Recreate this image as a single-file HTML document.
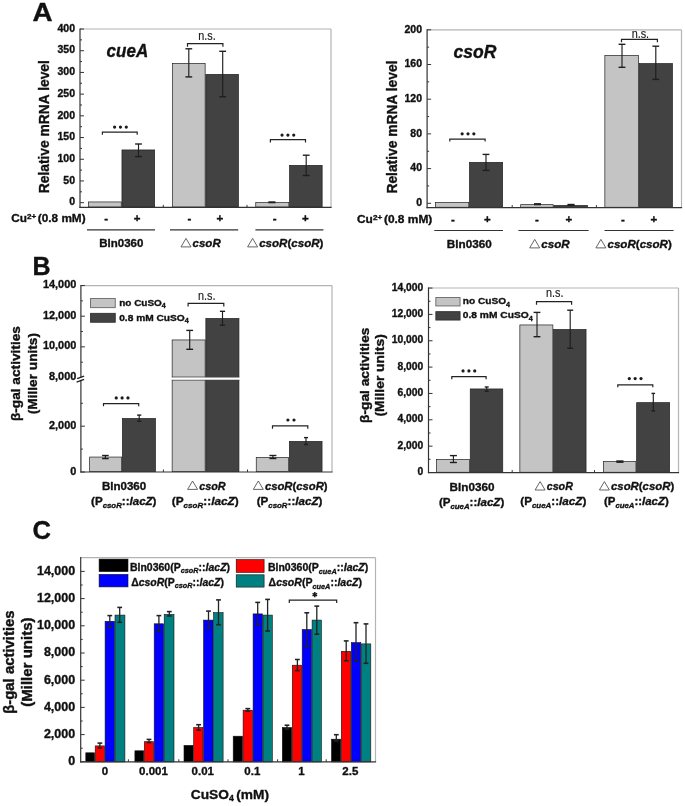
<!DOCTYPE html><html><head><meta charset="utf-8"><style>html,body{margin:0;padding:0;background:#fff;}svg{display:block;will-change:transform;}text{font-family:"Liberation Sans", sans-serif;stroke:#111;stroke-width:0.35px;stroke-linejoin:round;}text[font-weight=normal]{stroke-width:0.15px;}</style></head><body>
<svg width="685" height="806" viewBox="0 0 685 806">
<rect width="685" height="806" fill="#fff"/>
<text transform="translate(32.6,21) scale(1.09,1)" x="0" y="0" font-size="25.5" font-weight="bold" fill="#111">A</text>
<text x="32.50" y="275.10" font-size="25" font-weight="bold" font-style="normal" text-anchor="start" fill="#111">B</text>
<text x="32.40" y="539.10" font-size="25.5" font-weight="bold" font-style="normal" text-anchor="start" fill="#111">C</text>
<rect x="88.35" y="201.95" width="32.90" height="5.10" fill="#c4c4c4" stroke="#222" stroke-width="0.7"/>
<rect x="121.95" y="149.95" width="32.70" height="57.10" fill="#424242" stroke="#222" stroke-width="0.7"/>
<rect x="172.55" y="63.35" width="32.60" height="143.70" fill="#c4c4c4" stroke="#222" stroke-width="0.7"/>
<rect x="205.85" y="74.35" width="32.60" height="132.70" fill="#424242" stroke="#222" stroke-width="0.7"/>
<rect x="255.75" y="202.55" width="33.10" height="4.50" fill="#c4c4c4" stroke="#222" stroke-width="0.7"/>
<rect x="289.55" y="165.35" width="32.60" height="41.70" fill="#424242" stroke="#222" stroke-width="0.7"/>
<line x1="138.50" y1="144.00" x2="138.50" y2="156.60" stroke="#1e1e1e" stroke-width="1.15"/>
<line x1="135.10" y1="144.00" x2="141.90" y2="144.00" stroke="#1e1e1e" stroke-width="1.38"/>
<line x1="135.10" y1="156.60" x2="141.90" y2="156.60" stroke="#1e1e1e" stroke-width="1.38"/>
<line x1="188.80" y1="48.80" x2="188.80" y2="76.90" stroke="#1e1e1e" stroke-width="1.15"/>
<line x1="185.40" y1="48.80" x2="192.20" y2="48.80" stroke="#1e1e1e" stroke-width="1.38"/>
<line x1="185.40" y1="76.90" x2="192.20" y2="76.90" stroke="#1e1e1e" stroke-width="1.38"/>
<line x1="222.70" y1="51.30" x2="222.70" y2="96.80" stroke="#1e1e1e" stroke-width="1.15"/>
<line x1="219.30" y1="51.30" x2="226.10" y2="51.30" stroke="#1e1e1e" stroke-width="1.38"/>
<line x1="219.30" y1="96.80" x2="226.10" y2="96.80" stroke="#1e1e1e" stroke-width="1.38"/>
<line x1="306.20" y1="155.20" x2="306.20" y2="175.50" stroke="#1e1e1e" stroke-width="1.15"/>
<line x1="302.80" y1="155.20" x2="309.60" y2="155.20" stroke="#1e1e1e" stroke-width="1.38"/>
<line x1="302.80" y1="175.50" x2="309.60" y2="175.50" stroke="#1e1e1e" stroke-width="1.38"/>
<line x1="271.90" y1="202.00" x2="271.90" y2="202.60" stroke="#1e1e1e" stroke-width="1.15"/>
<line x1="268.40" y1="202.00" x2="275.40" y2="202.00" stroke="#1e1e1e" stroke-width="1.38"/>
<line x1="268.40" y1="202.60" x2="275.40" y2="202.60" stroke="#1e1e1e" stroke-width="1.38"/>
<line x1="80.00" y1="29.00" x2="331.00" y2="29.00" stroke="#b4b4b4" stroke-width="1.2"/>
<line x1="331.00" y1="29.00" x2="331.00" y2="207.40" stroke="#b4b4b4" stroke-width="1.2"/>
<line x1="80.00" y1="28.40" x2="80.00" y2="208.00" stroke="#333333" stroke-width="1.2"/>
<line x1="79.40" y1="207.40" x2="331.60" y2="207.40" stroke="#333333" stroke-width="1.2"/>
<line x1="80.00" y1="202.66" x2="84.00" y2="202.66" stroke="#333333" stroke-width="1.0"/>
<line x1="80.00" y1="180.95" x2="84.00" y2="180.95" stroke="#333333" stroke-width="1.0"/>
<line x1="80.00" y1="159.25" x2="84.00" y2="159.25" stroke="#333333" stroke-width="1.0"/>
<line x1="80.00" y1="137.55" x2="84.00" y2="137.55" stroke="#333333" stroke-width="1.0"/>
<line x1="80.00" y1="115.84" x2="84.00" y2="115.84" stroke="#333333" stroke-width="1.0"/>
<line x1="80.00" y1="94.14" x2="84.00" y2="94.14" stroke="#333333" stroke-width="1.0"/>
<line x1="80.00" y1="72.43" x2="84.00" y2="72.43" stroke="#333333" stroke-width="1.0"/>
<line x1="80.00" y1="50.72" x2="84.00" y2="50.72" stroke="#333333" stroke-width="1.0"/>
<line x1="80.00" y1="29.02" x2="84.00" y2="29.02" stroke="#333333" stroke-width="1.0"/>
<line x1="80.00" y1="191.81" x2="82.00" y2="191.81" stroke="#333333" stroke-width="1.0"/>
<line x1="80.00" y1="170.10" x2="82.00" y2="170.10" stroke="#333333" stroke-width="1.0"/>
<line x1="80.00" y1="148.40" x2="82.00" y2="148.40" stroke="#333333" stroke-width="1.0"/>
<line x1="80.00" y1="126.69" x2="82.00" y2="126.69" stroke="#333333" stroke-width="1.0"/>
<line x1="80.00" y1="104.99" x2="82.00" y2="104.99" stroke="#333333" stroke-width="1.0"/>
<line x1="80.00" y1="83.28" x2="82.00" y2="83.28" stroke="#333333" stroke-width="1.0"/>
<line x1="80.00" y1="61.58" x2="82.00" y2="61.58" stroke="#333333" stroke-width="1.0"/>
<line x1="80.00" y1="39.87" x2="82.00" y2="39.87" stroke="#333333" stroke-width="1.0"/>
<line x1="163.30" y1="207.40" x2="163.30" y2="204.90" stroke="#333333" stroke-width="1.0"/>
<line x1="247.00" y1="207.40" x2="247.00" y2="204.90" stroke="#333333" stroke-width="1.0"/>
<text x="75.00" y="205.36" font-size="10.5" font-weight="bold" font-style="normal" text-anchor="end" fill="#111">0</text>
<text x="75.00" y="183.65" font-size="10.5" font-weight="bold" font-style="normal" text-anchor="end" fill="#111">50</text>
<text x="75.00" y="161.95" font-size="10.5" font-weight="bold" font-style="normal" text-anchor="end" fill="#111">100</text>
<text x="75.00" y="140.25" font-size="10.5" font-weight="bold" font-style="normal" text-anchor="end" fill="#111">150</text>
<text x="75.00" y="118.54" font-size="10.5" font-weight="bold" font-style="normal" text-anchor="end" fill="#111">200</text>
<text x="75.00" y="96.84" font-size="10.5" font-weight="bold" font-style="normal" text-anchor="end" fill="#111">250</text>
<text x="75.00" y="75.13" font-size="10.5" font-weight="bold" font-style="normal" text-anchor="end" fill="#111">300</text>
<text x="75.00" y="53.42" font-size="10.5" font-weight="bold" font-style="normal" text-anchor="end" fill="#111">350</text>
<text x="75.00" y="31.72" font-size="10.5" font-weight="bold" font-style="normal" text-anchor="end" fill="#111">400</text>
<polyline points="102.40,134.80 102.40,132.10 137.20,132.10 137.20,134.80" fill="none" stroke="#222" stroke-width="1.2"/>
<circle cx="114.60" cy="127.10" r="1.6" fill="#1a1a1a"/>
<circle cx="120.45" cy="127.10" r="1.6" fill="#1a1a1a"/>
<circle cx="126.30" cy="127.10" r="1.6" fill="#1a1a1a"/>
<polyline points="187.50,46.70 187.50,43.70 222.90,43.70 222.90,46.70" fill="none" stroke="#222" stroke-width="1.2"/>
<text x="207.00" y="40.00" font-size="12.5" font-weight="normal" font-style="normal" text-anchor="middle" fill="#222" textLength="17.50" lengthAdjust="spacingAndGlyphs">n.s.</text>
<polyline points="270.40,142.50 270.40,139.70 305.50,139.70 305.50,142.50" fill="none" stroke="#222" stroke-width="1.2"/>
<circle cx="282.05" cy="135.10" r="1.6" fill="#1a1a1a"/>
<circle cx="287.90" cy="135.10" r="1.6" fill="#1a1a1a"/>
<circle cx="293.75" cy="135.10" r="1.6" fill="#1a1a1a"/>
<text x="106.60" y="57.10" font-size="17.5" font-weight="bold" font-style="italic" text-anchor="start" fill="#111" textLength="41.60" lengthAdjust="spacingAndGlyphs">cueA</text>
<rect x="435.55" y="202.45" width="33.20" height="4.80" fill="#c4c4c4" stroke="#222" stroke-width="0.7"/>
<rect x="469.45" y="162.35" width="33.20" height="44.90" fill="#424242" stroke="#222" stroke-width="0.7"/>
<rect x="520.65" y="204.65" width="32.50" height="2.60" fill="#c4c4c4" stroke="#222" stroke-width="0.7"/>
<rect x="553.85" y="205.45" width="33.60" height="1.80" fill="#424242" stroke="#222" stroke-width="0.7"/>
<rect x="604.85" y="55.45" width="33.60" height="151.80" fill="#c4c4c4" stroke="#222" stroke-width="0.7"/>
<rect x="639.15" y="63.55" width="33.30" height="143.70" fill="#424242" stroke="#222" stroke-width="0.7"/>
<line x1="486.00" y1="154.40" x2="486.00" y2="170.40" stroke="#1e1e1e" stroke-width="1.15"/>
<line x1="482.60" y1="154.40" x2="489.40" y2="154.40" stroke="#1e1e1e" stroke-width="1.38"/>
<line x1="482.60" y1="170.40" x2="489.40" y2="170.40" stroke="#1e1e1e" stroke-width="1.38"/>
<line x1="622.00" y1="44.30" x2="622.00" y2="67.30" stroke="#1e1e1e" stroke-width="1.15"/>
<line x1="618.60" y1="44.30" x2="625.40" y2="44.30" stroke="#1e1e1e" stroke-width="1.38"/>
<line x1="618.60" y1="67.30" x2="625.40" y2="67.30" stroke="#1e1e1e" stroke-width="1.38"/>
<line x1="655.80" y1="46.20" x2="655.80" y2="79.40" stroke="#1e1e1e" stroke-width="1.15"/>
<line x1="652.40" y1="46.20" x2="659.20" y2="46.20" stroke="#1e1e1e" stroke-width="1.38"/>
<line x1="652.40" y1="79.40" x2="659.20" y2="79.40" stroke="#1e1e1e" stroke-width="1.38"/>
<line x1="537.50" y1="203.80" x2="537.50" y2="204.60" stroke="#1e1e1e" stroke-width="1.15"/>
<line x1="534.00" y1="203.80" x2="541.00" y2="203.80" stroke="#1e1e1e" stroke-width="1.38"/>
<line x1="534.00" y1="204.60" x2="541.00" y2="204.60" stroke="#1e1e1e" stroke-width="1.38"/>
<line x1="571.00" y1="204.50" x2="571.00" y2="205.30" stroke="#1e1e1e" stroke-width="1.15"/>
<line x1="567.50" y1="204.50" x2="574.50" y2="204.50" stroke="#1e1e1e" stroke-width="1.38"/>
<line x1="567.50" y1="205.30" x2="574.50" y2="205.30" stroke="#1e1e1e" stroke-width="1.38"/>
<line x1="427.10" y1="29.80" x2="681.50" y2="29.80" stroke="#b4b4b4" stroke-width="1.2"/>
<line x1="681.50" y1="29.80" x2="681.50" y2="207.60" stroke="#b4b4b4" stroke-width="1.2"/>
<line x1="427.10" y1="29.20" x2="427.10" y2="208.20" stroke="#333333" stroke-width="1.2"/>
<line x1="426.50" y1="207.60" x2="682.10" y2="207.60" stroke="#333333" stroke-width="1.2"/>
<line x1="427.10" y1="203.30" x2="431.10" y2="203.30" stroke="#333333" stroke-width="1.0"/>
<line x1="427.10" y1="168.60" x2="431.10" y2="168.60" stroke="#333333" stroke-width="1.0"/>
<line x1="427.10" y1="133.90" x2="431.10" y2="133.90" stroke="#333333" stroke-width="1.0"/>
<line x1="427.10" y1="99.20" x2="431.10" y2="99.20" stroke="#333333" stroke-width="1.0"/>
<line x1="427.10" y1="64.50" x2="431.10" y2="64.50" stroke="#333333" stroke-width="1.0"/>
<line x1="427.10" y1="29.80" x2="431.10" y2="29.80" stroke="#333333" stroke-width="1.0"/>
<line x1="427.10" y1="185.95" x2="429.10" y2="185.95" stroke="#333333" stroke-width="1.0"/>
<line x1="427.10" y1="151.25" x2="429.10" y2="151.25" stroke="#333333" stroke-width="1.0"/>
<line x1="427.10" y1="116.55" x2="429.10" y2="116.55" stroke="#333333" stroke-width="1.0"/>
<line x1="427.10" y1="81.85" x2="429.10" y2="81.85" stroke="#333333" stroke-width="1.0"/>
<line x1="427.10" y1="47.15" x2="429.10" y2="47.15" stroke="#333333" stroke-width="1.0"/>
<line x1="512.20" y1="207.60" x2="512.20" y2="205.10" stroke="#333333" stroke-width="1.0"/>
<line x1="596.40" y1="207.60" x2="596.40" y2="205.10" stroke="#333333" stroke-width="1.0"/>
<text x="422.00" y="206.00" font-size="10.5" font-weight="bold" font-style="normal" text-anchor="end" fill="#111">0</text>
<text x="422.00" y="171.30" font-size="10.5" font-weight="bold" font-style="normal" text-anchor="end" fill="#111">40</text>
<text x="422.00" y="136.60" font-size="10.5" font-weight="bold" font-style="normal" text-anchor="end" fill="#111">80</text>
<text x="422.00" y="101.90" font-size="10.5" font-weight="bold" font-style="normal" text-anchor="end" fill="#111">120</text>
<text x="422.00" y="67.20" font-size="10.5" font-weight="bold" font-style="normal" text-anchor="end" fill="#111">160</text>
<text x="422.00" y="32.50" font-size="10.5" font-weight="bold" font-style="normal" text-anchor="end" fill="#111">200</text>
<polyline points="449.80,141.60 449.80,139.20 485.10,139.20 485.10,141.60" fill="none" stroke="#222" stroke-width="1.2"/>
<circle cx="462.15" cy="133.80" r="1.6" fill="#1a1a1a"/>
<circle cx="468.00" cy="133.80" r="1.6" fill="#1a1a1a"/>
<circle cx="473.85" cy="133.80" r="1.6" fill="#1a1a1a"/>
<polyline points="621.50,42.20 621.50,39.40 657.40,39.40 657.40,42.20" fill="none" stroke="#222" stroke-width="1.2"/>
<text x="640.40" y="37.50" font-size="12.5" font-weight="normal" font-style="normal" text-anchor="middle" fill="#222" textLength="17.50" lengthAdjust="spacingAndGlyphs">n.s.</text>
<text x="453.60" y="58.40" font-size="17.5" font-weight="bold" font-style="italic" text-anchor="start" fill="#111" textLength="42.90" lengthAdjust="spacingAndGlyphs">csoR</text>
<text x="11.20" y="222.30" font-size="11.5" font-weight="bold" fill="#111" textLength="74.40" lengthAdjust="spacingAndGlyphs">Cu<tspan font-size="7.9" dy="-3.7">2+</tspan><tspan dy="3.7" font-size="6"> </tspan>(0.8 mM)</text>
<text x="106.10" y="221.90" font-size="11.5" font-weight="bold" font-style="normal" text-anchor="middle" fill="#111">-</text>
<text x="137.10" y="221.90" font-size="11.5" font-weight="bold" font-style="normal" text-anchor="middle" fill="#111">+</text>
<text x="189.40" y="221.90" font-size="11.5" font-weight="bold" font-style="normal" text-anchor="middle" fill="#111">-</text>
<text x="219.90" y="221.90" font-size="11.5" font-weight="bold" font-style="normal" text-anchor="middle" fill="#111">+</text>
<text x="274.60" y="221.90" font-size="11.5" font-weight="bold" font-style="normal" text-anchor="middle" fill="#111">-</text>
<text x="305.40" y="221.90" font-size="11.5" font-weight="bold" font-style="normal" text-anchor="middle" fill="#111">+</text>
<line x1="87.00" y1="229.80" x2="155.00" y2="229.80" stroke="#333" stroke-width="1.2"/>
<line x1="170.00" y1="229.80" x2="238.20" y2="229.80" stroke="#333" stroke-width="1.2"/>
<line x1="255.40" y1="229.80" x2="323.40" y2="229.80" stroke="#333" stroke-width="1.2"/>
<text x="99.30" y="247.20" font-size="11.5" font-weight="bold" font-style="normal" text-anchor="start" fill="#111" textLength="44.10" lengthAdjust="spacingAndGlyphs">Bln0360</text>
<polygon points="186.00,238.40 191.00,246.90 181.00,246.90" fill="none" stroke="#555" stroke-width="0.9"/>
<text x="192.60" y="247.20" font-size="11.5" font-weight="bold" font-style="italic" text-anchor="start" fill="#111" textLength="28.10" lengthAdjust="spacingAndGlyphs">csoR</text>
<polygon points="252.60,238.40 257.60,246.90 247.60,246.90" fill="none" stroke="#555" stroke-width="0.9"/>
<text x="259.20" y="247.20" font-size="11.5" font-weight="bold" fill="#111" textLength="64.20" lengthAdjust="spacingAndGlyphs"><tspan font-style="italic">csoR</tspan>(<tspan font-style="italic">csoR</tspan>)</text>
<text x="357.00" y="223.30" font-size="11.5" font-weight="bold" fill="#111" textLength="75.30" lengthAdjust="spacingAndGlyphs">Cu<tspan font-size="7.9" dy="-3.7">2+</tspan><tspan dy="3.7" font-size="6"> </tspan>(0.8 mM)</text>
<text x="452.90" y="222.90" font-size="11.5" font-weight="bold" font-style="normal" text-anchor="middle" fill="#111">-</text>
<text x="487.30" y="222.90" font-size="11.5" font-weight="bold" font-style="normal" text-anchor="middle" fill="#111">+</text>
<text x="537.00" y="222.90" font-size="11.5" font-weight="bold" font-style="normal" text-anchor="middle" fill="#111">-</text>
<text x="568.90" y="222.90" font-size="11.5" font-weight="bold" font-style="normal" text-anchor="middle" fill="#111">+</text>
<text x="622.90" y="222.90" font-size="11.5" font-weight="bold" font-style="normal" text-anchor="middle" fill="#111">-</text>
<text x="653.90" y="222.90" font-size="11.5" font-weight="bold" font-style="normal" text-anchor="middle" fill="#111">+</text>
<line x1="434.30" y1="230.50" x2="503.00" y2="230.50" stroke="#333" stroke-width="1.2"/>
<line x1="518.40" y1="230.50" x2="588.60" y2="230.50" stroke="#333" stroke-width="1.2"/>
<line x1="604.50" y1="230.50" x2="673.60" y2="230.50" stroke="#333" stroke-width="1.2"/>
<text x="446.80" y="248.20" font-size="11.5" font-weight="bold" font-style="normal" text-anchor="start" fill="#111" textLength="44.90" lengthAdjust="spacingAndGlyphs">Bln0360</text>
<polygon points="534.70,239.40 539.70,247.90 529.70,247.90" fill="none" stroke="#555" stroke-width="0.9"/>
<text x="541.30" y="248.20" font-size="11.5" font-weight="bold" font-style="italic" text-anchor="start" fill="#111" textLength="28.40" lengthAdjust="spacingAndGlyphs">csoR</text>
<polygon points="600.90,239.40 605.90,247.90 595.90,247.90" fill="none" stroke="#555" stroke-width="0.9"/>
<text x="607.50" y="248.20" font-size="11.5" font-weight="bold" fill="#111" textLength="64.30" lengthAdjust="spacingAndGlyphs"><tspan font-style="italic">csoR</tspan>(<tspan font-style="italic">csoR</tspan>)</text>
<text transform="translate(49.00,126.70) rotate(-90) scale(1,1.0)" x="0" y="0" font-size="14" font-weight="bold" text-anchor="middle" fill="#111" textLength="133.20" lengthAdjust="spacingAndGlyphs">Relative mRNA level</text>
<text transform="translate(396.90,127.05) rotate(-90) scale(1,1.0)" x="0" y="0" font-size="14" font-weight="bold" text-anchor="middle" fill="#111" textLength="133.10" lengthAdjust="spacingAndGlyphs">Relative mRNA level</text>
<rect x="89.65" y="457.05" width="32.00" height="14.60" fill="#c4c4c4" stroke="#222" stroke-width="0.7"/>
<rect x="122.35" y="418.45" width="33.10" height="53.20" fill="#424242" stroke="#222" stroke-width="0.7"/>
<rect x="172.15" y="339.95" width="33.00" height="131.70" fill="#c4c4c4" stroke="#222" stroke-width="0.7"/>
<rect x="205.85" y="318.45" width="33.10" height="153.20" fill="#424242" stroke="#222" stroke-width="0.7"/>
<rect x="256.25" y="457.35" width="32.40" height="14.30" fill="#c4c4c4" stroke="#222" stroke-width="0.7"/>
<rect x="289.35" y="441.35" width="32.70" height="30.30" fill="#424242" stroke="#222" stroke-width="0.7"/>
<rect x="160" y="377.3" width="90" height="2.6" fill="#fff"/>
<line x1="171.80" y1="376.95" x2="239.30" y2="376.95" stroke="#444" stroke-width="0.7"/>
<line x1="171.80" y1="380.25" x2="239.30" y2="380.25" stroke="#444" stroke-width="0.7"/>
<line x1="105.40" y1="455.50" x2="105.40" y2="458.60" stroke="#1e1e1e" stroke-width="1.15"/>
<line x1="102.10" y1="455.50" x2="108.70" y2="455.50" stroke="#1e1e1e" stroke-width="1.38"/>
<line x1="102.10" y1="458.60" x2="108.70" y2="458.60" stroke="#1e1e1e" stroke-width="1.38"/>
<line x1="139.20" y1="415.10" x2="139.20" y2="421.30" stroke="#1e1e1e" stroke-width="1.15"/>
<line x1="137.10" y1="415.10" x2="141.30" y2="415.10" stroke="#1e1e1e" stroke-width="1.38"/>
<line x1="137.10" y1="421.30" x2="141.30" y2="421.30" stroke="#1e1e1e" stroke-width="1.38"/>
<line x1="189.70" y1="330.40" x2="189.70" y2="349.30" stroke="#1e1e1e" stroke-width="1.15"/>
<line x1="186.30" y1="330.40" x2="193.10" y2="330.40" stroke="#1e1e1e" stroke-width="1.38"/>
<line x1="186.30" y1="349.30" x2="193.10" y2="349.30" stroke="#1e1e1e" stroke-width="1.38"/>
<line x1="222.50" y1="311.30" x2="222.50" y2="325.20" stroke="#1e1e1e" stroke-width="1.15"/>
<line x1="219.90" y1="311.30" x2="225.10" y2="311.30" stroke="#1e1e1e" stroke-width="1.38"/>
<line x1="219.90" y1="325.20" x2="225.10" y2="325.20" stroke="#1e1e1e" stroke-width="1.38"/>
<line x1="272.90" y1="455.50" x2="272.90" y2="458.50" stroke="#1e1e1e" stroke-width="1.15"/>
<line x1="269.40" y1="455.50" x2="276.40" y2="455.50" stroke="#1e1e1e" stroke-width="1.38"/>
<line x1="269.40" y1="458.50" x2="276.40" y2="458.50" stroke="#1e1e1e" stroke-width="1.38"/>
<line x1="306.00" y1="437.60" x2="306.00" y2="444.50" stroke="#1e1e1e" stroke-width="1.15"/>
<line x1="304.00" y1="437.60" x2="308.00" y2="437.60" stroke="#1e1e1e" stroke-width="1.38"/>
<line x1="304.00" y1="444.50" x2="308.00" y2="444.50" stroke="#1e1e1e" stroke-width="1.38"/>
<line x1="80.90" y1="285.60" x2="332.00" y2="285.60" stroke="#b4b4b4" stroke-width="1.2"/>
<line x1="332.00" y1="285.60" x2="332.00" y2="472.00" stroke="#b4b4b4" stroke-width="1.2"/>
<line x1="80.90" y1="285.00" x2="80.90" y2="472.60" stroke="#333333" stroke-width="1.2"/>
<line x1="80.30" y1="472.00" x2="332.60" y2="472.00" stroke="#333333" stroke-width="1.2"/>
<rect x="79.4" y="377.4" width="3" height="2.4" fill="#fff"/>
<line x1="77.10" y1="378.60" x2="84.10" y2="376.10" stroke="#222" stroke-width="1.4"/>
<line x1="76.60" y1="382.20" x2="84.10" y2="379.40" stroke="#222" stroke-width="1.4"/>
<line x1="80.90" y1="346.85" x2="84.90" y2="346.85" stroke="#333333" stroke-width="1.0"/>
<line x1="80.90" y1="316.20" x2="84.90" y2="316.20" stroke="#333333" stroke-width="1.0"/>
<line x1="80.90" y1="285.55" x2="84.90" y2="285.55" stroke="#333333" stroke-width="1.0"/>
<line x1="80.90" y1="472.00" x2="84.90" y2="472.00" stroke="#333333" stroke-width="1.0"/>
<line x1="80.90" y1="426.20" x2="84.90" y2="426.20" stroke="#333333" stroke-width="1.0"/>
<line x1="80.90" y1="362.18" x2="82.90" y2="362.18" stroke="#333333" stroke-width="1.0"/>
<line x1="80.90" y1="331.52" x2="82.90" y2="331.52" stroke="#333333" stroke-width="1.0"/>
<line x1="80.90" y1="300.88" x2="82.90" y2="300.88" stroke="#333333" stroke-width="1.0"/>
<line x1="80.90" y1="449.10" x2="82.90" y2="449.10" stroke="#333333" stroke-width="1.0"/>
<line x1="80.90" y1="403.30" x2="82.90" y2="403.30" stroke="#333333" stroke-width="1.0"/>
<line x1="163.40" y1="472.00" x2="163.40" y2="469.50" stroke="#333333" stroke-width="1.0"/>
<line x1="247.50" y1="472.00" x2="247.50" y2="469.50" stroke="#333333" stroke-width="1.0"/>
<text x="76.30" y="380.10" font-size="10.9" font-weight="bold" font-style="normal" text-anchor="end" fill="#111">8,000</text>
<text x="76.30" y="349.45" font-size="10.9" font-weight="bold" font-style="normal" text-anchor="end" fill="#111">10,000</text>
<text x="76.30" y="318.80" font-size="10.9" font-weight="bold" font-style="normal" text-anchor="end" fill="#111">12,000</text>
<text x="76.30" y="288.15" font-size="10.9" font-weight="bold" font-style="normal" text-anchor="end" fill="#111">14,000</text>
<text x="76.30" y="474.60" font-size="10.9" font-weight="bold" font-style="normal" text-anchor="end" fill="#111">0</text>
<text x="76.30" y="428.80" font-size="10.9" font-weight="bold" font-style="normal" text-anchor="end" fill="#111">2,000</text>
<polyline points="103.50,406.30 103.50,403.70 138.70,403.70 138.70,406.30" fill="none" stroke="#222" stroke-width="1.2"/>
<circle cx="116.25" cy="397.90" r="1.6" fill="#1a1a1a"/>
<circle cx="122.10" cy="397.90" r="1.6" fill="#1a1a1a"/>
<circle cx="127.95" cy="397.90" r="1.6" fill="#1a1a1a"/>
<polyline points="188.10,306.60 188.10,303.40 223.80,303.40 223.80,306.60" fill="none" stroke="#222" stroke-width="1.2"/>
<text x="206.80" y="299.60" font-size="12.5" font-weight="normal" font-style="normal" text-anchor="middle" fill="#222" textLength="17.50" lengthAdjust="spacingAndGlyphs">n.s.</text>
<polyline points="272.50,428.80 272.50,425.80 307.80,425.80 307.80,428.80" fill="none" stroke="#222" stroke-width="1.2"/>
<circle cx="287.90" cy="420.00" r="1.6" fill="#1a1a1a"/>
<circle cx="294.00" cy="420.00" r="1.6" fill="#1a1a1a"/>
<rect x="90.55" y="298.55" width="24.70" height="9.10" fill="#c4c4c4" stroke="#666" stroke-width="0.9"/>
<rect x="90.55" y="313.35" width="24.70" height="8.90" fill="#424242" stroke="#333" stroke-width="0.9"/>
<text x="119.20" y="306.20" font-size="9.6" font-weight="bold" fill="#111" textLength="46.60" lengthAdjust="spacingAndGlyphs">no CuSO<tspan font-size="6.8" dy="2.2">4</tspan></text>
<text x="119.20" y="320.60" font-size="9.6" font-weight="bold" fill="#111" textLength="69.60" lengthAdjust="spacingAndGlyphs">0.8 mM CuSO<tspan font-size="6.8" dy="2.2">4</tspan></text>
<text x="101.90" y="490.30" font-size="11.5" font-weight="bold" font-style="normal" text-anchor="start" fill="#111" textLength="44.30" lengthAdjust="spacingAndGlyphs">Bln0360</text>
<text x="91.10" y="505.00" font-size="11.5" font-weight="bold" fill="#111" textLength="65.40" lengthAdjust="spacingAndGlyphs">(P<tspan font-size="7.8" font-style="italic" dy="2.5">csoR</tspan><tspan dy="-2.5">::</tspan><tspan font-style="italic">lacZ</tspan>)</text>
<polygon points="192.60,481.00 197.60,489.40 187.60,489.40" fill="none" stroke="#555" stroke-width="0.9"/>
<text x="199.20" y="489.70" font-size="11.5" font-weight="bold" font-style="italic" text-anchor="start" fill="#111" textLength="26.50" lengthAdjust="spacingAndGlyphs">csoR</text>
<text x="171.80" y="505.00" font-size="11.5" font-weight="bold" fill="#111" textLength="67.00" lengthAdjust="spacingAndGlyphs">(P<tspan font-size="7.8" font-style="italic" dy="2.5">csoR</tspan><tspan dy="-2.5">::</tspan><tspan font-style="italic">lacZ</tspan>)</text>
<polygon points="258.30,481.00 263.30,489.40 253.30,489.40" fill="none" stroke="#555" stroke-width="0.9"/>
<text x="264.9" y="489.7" font-size="11.5" font-weight="bold" fill="#111" textLength="62.7" lengthAdjust="spacingAndGlyphs"><tspan font-style="italic">csoR</tspan>(<tspan font-style="italic">csoR</tspan>)</text>
<text x="256.70" y="505.00" font-size="11.5" font-weight="bold" fill="#111" textLength="65.70" lengthAdjust="spacingAndGlyphs">(P<tspan font-size="7.8" font-style="italic" dy="2.5">csoR</tspan><tspan dy="-2.5">::</tspan><tspan font-style="italic">lacZ</tspan>)</text>
<rect x="436.45" y="459.35" width="33.10" height="12.90" fill="#c4c4c4" stroke="#222" stroke-width="0.7"/>
<rect x="470.25" y="388.95" width="32.50" height="83.30" fill="#424242" stroke="#222" stroke-width="0.7"/>
<rect x="519.85" y="324.95" width="33.00" height="147.30" fill="#c4c4c4" stroke="#222" stroke-width="0.7"/>
<rect x="553.55" y="329.45" width="32.50" height="142.80" fill="#424242" stroke="#222" stroke-width="0.7"/>
<rect x="603.35" y="461.55" width="32.60" height="10.70" fill="#c4c4c4" stroke="#222" stroke-width="0.7"/>
<rect x="636.65" y="402.65" width="33.00" height="69.60" fill="#424242" stroke="#222" stroke-width="0.7"/>
<line x1="453.40" y1="455.60" x2="453.40" y2="462.50" stroke="#1e1e1e" stroke-width="1.15"/>
<line x1="449.90" y1="455.60" x2="456.90" y2="455.60" stroke="#1e1e1e" stroke-width="1.38"/>
<line x1="449.90" y1="462.50" x2="456.90" y2="462.50" stroke="#1e1e1e" stroke-width="1.38"/>
<line x1="486.70" y1="387.00" x2="486.70" y2="391.20" stroke="#1e1e1e" stroke-width="1.15"/>
<line x1="484.70" y1="387.00" x2="488.70" y2="387.00" stroke="#1e1e1e" stroke-width="1.38"/>
<line x1="484.70" y1="391.20" x2="488.70" y2="391.20" stroke="#1e1e1e" stroke-width="1.38"/>
<line x1="537.00" y1="312.40" x2="537.00" y2="336.70" stroke="#1e1e1e" stroke-width="1.15"/>
<line x1="533.60" y1="312.40" x2="540.40" y2="312.40" stroke="#1e1e1e" stroke-width="1.38"/>
<line x1="533.60" y1="336.70" x2="540.40" y2="336.70" stroke="#1e1e1e" stroke-width="1.38"/>
<line x1="570.20" y1="310.20" x2="570.20" y2="348.30" stroke="#1e1e1e" stroke-width="1.15"/>
<line x1="567.20" y1="310.20" x2="573.20" y2="310.20" stroke="#1e1e1e" stroke-width="1.38"/>
<line x1="567.20" y1="348.30" x2="573.20" y2="348.30" stroke="#1e1e1e" stroke-width="1.38"/>
<line x1="619.90" y1="461.00" x2="619.90" y2="462.20" stroke="#1e1e1e" stroke-width="1.15"/>
<line x1="616.30" y1="461.00" x2="623.50" y2="461.00" stroke="#1e1e1e" stroke-width="1.38"/>
<line x1="616.30" y1="462.20" x2="623.50" y2="462.20" stroke="#1e1e1e" stroke-width="1.38"/>
<line x1="653.30" y1="393.40" x2="653.30" y2="410.90" stroke="#1e1e1e" stroke-width="1.15"/>
<line x1="651.50" y1="393.40" x2="655.10" y2="393.40" stroke="#1e1e1e" stroke-width="1.38"/>
<line x1="651.50" y1="410.90" x2="655.10" y2="410.90" stroke="#1e1e1e" stroke-width="1.38"/>
<line x1="428.50" y1="288.00" x2="678.50" y2="288.00" stroke="#b4b4b4" stroke-width="1.2"/>
<line x1="678.50" y1="288.00" x2="678.50" y2="472.60" stroke="#b4b4b4" stroke-width="1.2"/>
<line x1="428.50" y1="287.40" x2="428.50" y2="473.20" stroke="#333333" stroke-width="1.2"/>
<line x1="427.90" y1="472.60" x2="679.10" y2="472.60" stroke="#333333" stroke-width="1.2"/>
<line x1="428.50" y1="472.50" x2="432.50" y2="472.50" stroke="#333333" stroke-width="1.0"/>
<line x1="428.50" y1="446.15" x2="432.50" y2="446.15" stroke="#333333" stroke-width="1.0"/>
<line x1="428.50" y1="419.80" x2="432.50" y2="419.80" stroke="#333333" stroke-width="1.0"/>
<line x1="428.50" y1="393.45" x2="432.50" y2="393.45" stroke="#333333" stroke-width="1.0"/>
<line x1="428.50" y1="367.10" x2="432.50" y2="367.10" stroke="#333333" stroke-width="1.0"/>
<line x1="428.50" y1="340.75" x2="432.50" y2="340.75" stroke="#333333" stroke-width="1.0"/>
<line x1="428.50" y1="314.40" x2="432.50" y2="314.40" stroke="#333333" stroke-width="1.0"/>
<line x1="428.50" y1="288.05" x2="432.50" y2="288.05" stroke="#333333" stroke-width="1.0"/>
<line x1="428.50" y1="459.32" x2="430.50" y2="459.32" stroke="#333333" stroke-width="1.0"/>
<line x1="428.50" y1="432.98" x2="430.50" y2="432.98" stroke="#333333" stroke-width="1.0"/>
<line x1="428.50" y1="406.62" x2="430.50" y2="406.62" stroke="#333333" stroke-width="1.0"/>
<line x1="428.50" y1="380.27" x2="430.50" y2="380.27" stroke="#333333" stroke-width="1.0"/>
<line x1="428.50" y1="353.93" x2="430.50" y2="353.93" stroke="#333333" stroke-width="1.0"/>
<line x1="428.50" y1="327.58" x2="430.50" y2="327.58" stroke="#333333" stroke-width="1.0"/>
<line x1="428.50" y1="301.23" x2="430.50" y2="301.23" stroke="#333333" stroke-width="1.0"/>
<line x1="512.20" y1="472.60" x2="512.20" y2="470.10" stroke="#333333" stroke-width="1.0"/>
<line x1="594.50" y1="472.60" x2="594.50" y2="470.10" stroke="#333333" stroke-width="1.0"/>
<text x="423.30" y="475.10" font-size="10.3" font-weight="bold" font-style="normal" text-anchor="end" fill="#111">0</text>
<text x="423.30" y="448.75" font-size="10.3" font-weight="bold" font-style="normal" text-anchor="end" fill="#111">2,000</text>
<text x="423.30" y="422.40" font-size="10.3" font-weight="bold" font-style="normal" text-anchor="end" fill="#111">4,000</text>
<text x="423.30" y="396.05" font-size="10.3" font-weight="bold" font-style="normal" text-anchor="end" fill="#111">6,000</text>
<text x="423.30" y="369.70" font-size="10.3" font-weight="bold" font-style="normal" text-anchor="end" fill="#111">8,000</text>
<text x="423.30" y="343.35" font-size="10.3" font-weight="bold" font-style="normal" text-anchor="end" fill="#111">10,000</text>
<text x="423.30" y="317.00" font-size="10.3" font-weight="bold" font-style="normal" text-anchor="end" fill="#111">12,000</text>
<text x="423.30" y="290.65" font-size="10.3" font-weight="bold" font-style="normal" text-anchor="end" fill="#111">14,000</text>
<polyline points="451.80,379.30 451.80,376.70 486.10,376.70 486.10,379.30" fill="none" stroke="#222" stroke-width="1.2"/>
<circle cx="463.05" cy="370.90" r="1.6" fill="#1a1a1a"/>
<circle cx="468.90" cy="370.90" r="1.6" fill="#1a1a1a"/>
<circle cx="474.75" cy="370.90" r="1.6" fill="#1a1a1a"/>
<polyline points="536.50,304.80 536.50,301.60 571.60,301.60 571.60,304.80" fill="none" stroke="#222" stroke-width="1.2"/>
<text x="554.80" y="297.30" font-size="12.5" font-weight="normal" font-style="normal" text-anchor="middle" fill="#222" textLength="17.50" lengthAdjust="spacingAndGlyphs">n.s.</text>
<polyline points="617.80,387.30 617.80,384.80 652.80,384.80 652.80,387.30" fill="none" stroke="#222" stroke-width="1.2"/>
<circle cx="629.30" cy="378.60" r="1.6" fill="#1a1a1a"/>
<circle cx="635.15" cy="378.60" r="1.6" fill="#1a1a1a"/>
<circle cx="641.00" cy="378.60" r="1.6" fill="#1a1a1a"/>
<rect x="435.85" y="297.55" width="24.20" height="8.40" fill="#c4c4c4" stroke="#666" stroke-width="0.9"/>
<rect x="435.85" y="311.65" width="24.20" height="8.40" fill="#424242" stroke="#333" stroke-width="0.9"/>
<text x="462.80" y="304.40" font-size="9.6" font-weight="bold" fill="#111" textLength="47.20" lengthAdjust="spacingAndGlyphs">no CuSO<tspan font-size="6.8" dy="2.2">4</tspan></text>
<text x="462.80" y="318.40" font-size="9.6" font-weight="bold" fill="#111" textLength="69.90" lengthAdjust="spacingAndGlyphs">0.8 mM CuSO<tspan font-size="6.8" dy="2.2">4</tspan></text>
<text x="449.60" y="490.90" font-size="11.5" font-weight="bold" font-style="normal" text-anchor="start" fill="#111" textLength="44.90" lengthAdjust="spacingAndGlyphs">Bln0360</text>
<text x="438.90" y="506.30" font-size="11.5" font-weight="bold" fill="#111" textLength="65.40" lengthAdjust="spacingAndGlyphs">(P<tspan font-size="7.8" font-style="italic" dy="2.5">cueA</tspan><tspan dy="-2.5">::</tspan><tspan font-style="italic">lacZ</tspan>)</text>
<polygon points="540.10,481.60 545.10,490.00 535.10,490.00" fill="none" stroke="#555" stroke-width="0.9"/>
<text x="546.70" y="490.30" font-size="11.5" font-weight="bold" font-style="italic" text-anchor="start" fill="#111" textLength="26.20" lengthAdjust="spacingAndGlyphs">csoR</text>
<text x="520.30" y="505.40" font-size="11.5" font-weight="bold" fill="#111" textLength="66.10" lengthAdjust="spacingAndGlyphs">(P<tspan font-size="7.8" font-style="italic" dy="2.5">cueA</tspan><tspan dy="-2.5">::</tspan><tspan font-style="italic">lacZ</tspan>)</text>
<polygon points="604.40,481.60 609.40,490.00 599.40,490.00" fill="none" stroke="#555" stroke-width="0.9"/>
<text x="611.0" y="490.3" font-size="11.5" font-weight="bold" fill="#111" textLength="63.2" lengthAdjust="spacingAndGlyphs"><tspan font-style="italic">csoR</tspan>(<tspan font-style="italic">csoR</tspan>)</text>
<text x="604.00" y="505.40" font-size="11.5" font-weight="bold" fill="#111" textLength="64.80" lengthAdjust="spacingAndGlyphs">(P<tspan font-size="7.8" font-style="italic" dy="2.5">cueA</tspan><tspan dy="-2.5">::</tspan><tspan font-style="italic">lacZ</tspan>)</text>
<rect x="85.80" y="752.80" width="8.80" height="9.10" fill="#000000" stroke="#111" stroke-width="0.6"/>
<rect x="95.20" y="745.90" width="9.30" height="16.00" fill="#ff0000" stroke="#111" stroke-width="0.6"/>
<rect x="105.10" y="621.30" width="9.30" height="140.60" fill="#0000ff" stroke="#111" stroke-width="0.6"/>
<rect x="115.00" y="615.10" width="9.90" height="146.80" fill="#008080" stroke="#111" stroke-width="0.6"/>
<rect x="134.90" y="750.80" width="8.80" height="11.10" fill="#000000" stroke="#111" stroke-width="0.6"/>
<rect x="144.30" y="741.70" width="9.30" height="20.20" fill="#ff0000" stroke="#111" stroke-width="0.6"/>
<rect x="154.20" y="623.80" width="9.40" height="138.10" fill="#0000ff" stroke="#111" stroke-width="0.6"/>
<rect x="164.20" y="614.40" width="9.80" height="147.50" fill="#008080" stroke="#111" stroke-width="0.6"/>
<rect x="184.00" y="745.40" width="9.10" height="16.50" fill="#000000" stroke="#111" stroke-width="0.6"/>
<rect x="193.70" y="727.50" width="9.30" height="34.40" fill="#ff0000" stroke="#111" stroke-width="0.6"/>
<rect x="203.60" y="620.10" width="9.40" height="141.80" fill="#0000ff" stroke="#111" stroke-width="0.6"/>
<rect x="213.60" y="612.60" width="9.50" height="149.30" fill="#008080" stroke="#111" stroke-width="0.6"/>
<rect x="233.20" y="736.20" width="9.30" height="25.70" fill="#000000" stroke="#111" stroke-width="0.6"/>
<rect x="243.10" y="710.20" width="9.40" height="51.70" fill="#ff0000" stroke="#111" stroke-width="0.6"/>
<rect x="253.10" y="613.90" width="9.30" height="148.00" fill="#0000ff" stroke="#111" stroke-width="0.6"/>
<rect x="263.00" y="615.10" width="9.30" height="146.80" fill="#008080" stroke="#111" stroke-width="0.6"/>
<rect x="282.30" y="727.50" width="9.40" height="34.40" fill="#000000" stroke="#111" stroke-width="0.6"/>
<rect x="292.30" y="665.20" width="9.30" height="96.70" fill="#ff0000" stroke="#111" stroke-width="0.6"/>
<rect x="302.20" y="629.50" width="9.30" height="132.40" fill="#0000ff" stroke="#111" stroke-width="0.6"/>
<rect x="312.10" y="620.10" width="9.30" height="141.80" fill="#008080" stroke="#111" stroke-width="0.6"/>
<rect x="331.50" y="739.20" width="9.20" height="22.70" fill="#000000" stroke="#111" stroke-width="0.6"/>
<rect x="341.30" y="651.30" width="9.40" height="110.60" fill="#ff0000" stroke="#111" stroke-width="0.6"/>
<rect x="351.30" y="642.60" width="9.50" height="119.30" fill="#0000ff" stroke="#111" stroke-width="0.6"/>
<rect x="361.40" y="643.90" width="9.40" height="118.00" fill="#008080" stroke="#111" stroke-width="0.6"/>
<line x1="99.90" y1="743.10" x2="99.90" y2="748.00" stroke="#222" stroke-width="1.3"/>
<line x1="97.50" y1="743.10" x2="102.30" y2="743.10" stroke="#222" stroke-width="1.56"/>
<line x1="97.50" y1="748.00" x2="102.30" y2="748.00" stroke="#222" stroke-width="1.56"/>
<line x1="109.80" y1="615.60" x2="109.80" y2="627.20" stroke="#222" stroke-width="1.3"/>
<line x1="107.40" y1="615.60" x2="112.20" y2="615.60" stroke="#222" stroke-width="1.56"/>
<line x1="107.40" y1="627.20" x2="112.20" y2="627.20" stroke="#222" stroke-width="1.56"/>
<line x1="119.70" y1="607.40" x2="119.70" y2="622.30" stroke="#222" stroke-width="1.3"/>
<line x1="117.30" y1="607.40" x2="122.10" y2="607.40" stroke="#222" stroke-width="1.56"/>
<line x1="117.30" y1="622.30" x2="122.10" y2="622.30" stroke="#222" stroke-width="1.56"/>
<line x1="149.00" y1="739.40" x2="149.00" y2="742.60" stroke="#222" stroke-width="1.3"/>
<line x1="146.60" y1="739.40" x2="151.40" y2="739.40" stroke="#222" stroke-width="1.56"/>
<line x1="146.60" y1="742.60" x2="151.40" y2="742.60" stroke="#222" stroke-width="1.56"/>
<line x1="158.90" y1="615.60" x2="158.90" y2="631.40" stroke="#222" stroke-width="1.3"/>
<line x1="156.50" y1="615.60" x2="161.30" y2="615.60" stroke="#222" stroke-width="1.56"/>
<line x1="156.50" y1="631.40" x2="161.30" y2="631.40" stroke="#222" stroke-width="1.56"/>
<line x1="169.30" y1="611.60" x2="169.30" y2="616.00" stroke="#222" stroke-width="1.3"/>
<line x1="166.90" y1="611.60" x2="171.70" y2="611.60" stroke="#222" stroke-width="1.56"/>
<line x1="166.90" y1="616.00" x2="171.70" y2="616.00" stroke="#222" stroke-width="1.56"/>
<line x1="198.60" y1="724.70" x2="198.60" y2="730.20" stroke="#222" stroke-width="1.3"/>
<line x1="196.20" y1="724.70" x2="201.00" y2="724.70" stroke="#222" stroke-width="1.56"/>
<line x1="196.20" y1="730.20" x2="201.00" y2="730.20" stroke="#222" stroke-width="1.56"/>
<line x1="208.50" y1="611.10" x2="208.50" y2="628.00" stroke="#222" stroke-width="1.3"/>
<line x1="206.10" y1="611.10" x2="210.90" y2="611.10" stroke="#222" stroke-width="1.56"/>
<line x1="206.10" y1="628.00" x2="210.90" y2="628.00" stroke="#222" stroke-width="1.56"/>
<line x1="218.50" y1="599.90" x2="218.50" y2="624.70" stroke="#222" stroke-width="1.3"/>
<line x1="216.10" y1="599.90" x2="220.90" y2="599.90" stroke="#222" stroke-width="1.56"/>
<line x1="216.10" y1="624.70" x2="220.90" y2="624.70" stroke="#222" stroke-width="1.56"/>
<line x1="247.80" y1="708.60" x2="247.80" y2="711.10" stroke="#222" stroke-width="1.3"/>
<line x1="245.40" y1="708.60" x2="250.20" y2="708.60" stroke="#222" stroke-width="1.56"/>
<line x1="245.40" y1="711.10" x2="250.20" y2="711.10" stroke="#222" stroke-width="1.56"/>
<line x1="257.70" y1="602.40" x2="257.70" y2="624.70" stroke="#222" stroke-width="1.3"/>
<line x1="255.30" y1="602.40" x2="260.10" y2="602.40" stroke="#222" stroke-width="1.56"/>
<line x1="255.30" y1="624.70" x2="260.10" y2="624.70" stroke="#222" stroke-width="1.56"/>
<line x1="267.60" y1="599.40" x2="267.60" y2="631.00" stroke="#222" stroke-width="1.3"/>
<line x1="265.20" y1="599.40" x2="270.00" y2="599.40" stroke="#222" stroke-width="1.56"/>
<line x1="265.20" y1="631.00" x2="270.00" y2="631.00" stroke="#222" stroke-width="1.56"/>
<line x1="287.00" y1="725.20" x2="287.00" y2="729.00" stroke="#222" stroke-width="1.3"/>
<line x1="284.60" y1="725.20" x2="289.40" y2="725.20" stroke="#222" stroke-width="1.56"/>
<line x1="284.60" y1="729.00" x2="289.40" y2="729.00" stroke="#222" stroke-width="1.56"/>
<line x1="297.40" y1="659.50" x2="297.40" y2="670.60" stroke="#222" stroke-width="1.3"/>
<line x1="295.00" y1="659.50" x2="299.80" y2="659.50" stroke="#222" stroke-width="1.56"/>
<line x1="295.00" y1="670.60" x2="299.80" y2="670.60" stroke="#222" stroke-width="1.56"/>
<line x1="306.80" y1="612.80" x2="306.80" y2="646.60" stroke="#222" stroke-width="1.3"/>
<line x1="304.40" y1="612.80" x2="309.20" y2="612.80" stroke="#222" stroke-width="1.56"/>
<line x1="304.40" y1="646.60" x2="309.20" y2="646.60" stroke="#222" stroke-width="1.56"/>
<line x1="316.80" y1="606.10" x2="316.80" y2="634.20" stroke="#222" stroke-width="1.3"/>
<line x1="314.40" y1="606.10" x2="319.20" y2="606.10" stroke="#222" stroke-width="1.56"/>
<line x1="314.40" y1="634.20" x2="319.20" y2="634.20" stroke="#222" stroke-width="1.56"/>
<line x1="336.30" y1="734.70" x2="336.30" y2="740.90" stroke="#222" stroke-width="1.3"/>
<line x1="333.90" y1="734.70" x2="338.70" y2="734.70" stroke="#222" stroke-width="1.56"/>
<line x1="333.90" y1="740.90" x2="338.70" y2="740.90" stroke="#222" stroke-width="1.56"/>
<line x1="346.20" y1="640.90" x2="346.20" y2="660.80" stroke="#222" stroke-width="1.3"/>
<line x1="343.80" y1="640.90" x2="348.60" y2="640.90" stroke="#222" stroke-width="1.56"/>
<line x1="343.80" y1="660.80" x2="348.60" y2="660.80" stroke="#222" stroke-width="1.56"/>
<line x1="356.00" y1="622.70" x2="356.00" y2="661.20" stroke="#222" stroke-width="1.3"/>
<line x1="353.60" y1="622.70" x2="358.40" y2="622.70" stroke="#222" stroke-width="1.56"/>
<line x1="353.60" y1="661.20" x2="358.40" y2="661.20" stroke="#222" stroke-width="1.56"/>
<line x1="366.00" y1="623.90" x2="366.00" y2="663.30" stroke="#222" stroke-width="1.3"/>
<line x1="363.60" y1="623.90" x2="368.40" y2="623.90" stroke="#222" stroke-width="1.56"/>
<line x1="363.60" y1="663.30" x2="368.40" y2="663.30" stroke="#222" stroke-width="1.56"/>
<line x1="80.70" y1="557.70" x2="375.50" y2="557.70" stroke="#b4b4b4" stroke-width="1.2"/>
<line x1="375.50" y1="557.70" x2="375.50" y2="761.80" stroke="#b4b4b4" stroke-width="1.2"/>
<line x1="80.70" y1="557.10" x2="80.70" y2="762.40" stroke="#333333" stroke-width="1.2"/>
<line x1="80.10" y1="761.80" x2="376.10" y2="761.80" stroke="#333333" stroke-width="1.2"/>
<line x1="80.70" y1="761.80" x2="84.70" y2="761.80" stroke="#333333" stroke-width="1.0"/>
<line x1="80.70" y1="734.60" x2="84.70" y2="734.60" stroke="#333333" stroke-width="1.0"/>
<line x1="80.70" y1="707.40" x2="84.70" y2="707.40" stroke="#333333" stroke-width="1.0"/>
<line x1="80.70" y1="680.20" x2="84.70" y2="680.20" stroke="#333333" stroke-width="1.0"/>
<line x1="80.70" y1="653.00" x2="84.70" y2="653.00" stroke="#333333" stroke-width="1.0"/>
<line x1="80.70" y1="625.80" x2="84.70" y2="625.80" stroke="#333333" stroke-width="1.0"/>
<line x1="80.70" y1="598.60" x2="84.70" y2="598.60" stroke="#333333" stroke-width="1.0"/>
<line x1="80.70" y1="571.40" x2="84.70" y2="571.40" stroke="#333333" stroke-width="1.0"/>
<line x1="80.70" y1="748.20" x2="82.70" y2="748.20" stroke="#333333" stroke-width="1.0"/>
<line x1="80.70" y1="721.00" x2="82.70" y2="721.00" stroke="#333333" stroke-width="1.0"/>
<line x1="80.70" y1="693.80" x2="82.70" y2="693.80" stroke="#333333" stroke-width="1.0"/>
<line x1="80.70" y1="666.60" x2="82.70" y2="666.60" stroke="#333333" stroke-width="1.0"/>
<line x1="80.70" y1="639.40" x2="82.70" y2="639.40" stroke="#333333" stroke-width="1.0"/>
<line x1="80.70" y1="612.20" x2="82.70" y2="612.20" stroke="#333333" stroke-width="1.0"/>
<line x1="80.70" y1="585.00" x2="82.70" y2="585.00" stroke="#333333" stroke-width="1.0"/>
<line x1="128.40" y1="761.80" x2="128.40" y2="759.30" stroke="#333333" stroke-width="1.0"/>
<line x1="178.80" y1="761.80" x2="178.80" y2="759.30" stroke="#333333" stroke-width="1.0"/>
<line x1="228.00" y1="761.80" x2="228.00" y2="759.30" stroke="#333333" stroke-width="1.0"/>
<line x1="277.60" y1="761.80" x2="277.60" y2="759.30" stroke="#333333" stroke-width="1.0"/>
<line x1="326.20" y1="761.80" x2="326.20" y2="759.30" stroke="#333333" stroke-width="1.0"/>
<text x="75.20" y="765.10" font-size="12.5" font-weight="bold" font-style="normal" text-anchor="end" fill="#111">0</text>
<text x="75.20" y="737.90" font-size="12.5" font-weight="bold" font-style="normal" text-anchor="end" fill="#111">2,000</text>
<text x="75.20" y="710.70" font-size="12.5" font-weight="bold" font-style="normal" text-anchor="end" fill="#111">4,000</text>
<text x="75.20" y="683.50" font-size="12.5" font-weight="bold" font-style="normal" text-anchor="end" fill="#111">6,000</text>
<text x="75.20" y="656.30" font-size="12.5" font-weight="bold" font-style="normal" text-anchor="end" fill="#111">8,000</text>
<text x="75.20" y="629.10" font-size="12.5" font-weight="bold" font-style="normal" text-anchor="end" fill="#111">10,000</text>
<text x="75.20" y="601.90" font-size="12.5" font-weight="bold" font-style="normal" text-anchor="end" fill="#111">12,000</text>
<text x="75.20" y="574.70" font-size="12.5" font-weight="bold" font-style="normal" text-anchor="end" fill="#111">14,000</text>
<polyline points="289.30,603.10 289.30,600.10 336.70,600.10 336.70,603.10" fill="none" stroke="#222" stroke-width="1.2"/>
<line x1="314.80" y1="592.00" x2="314.80" y2="597.20" stroke="#1a1a1a" stroke-width="1.5"/>
<line x1="312.55" y1="593.30" x2="317.05" y2="595.90" stroke="#1a1a1a" stroke-width="1.5"/>
<line x1="317.05" y1="593.30" x2="312.55" y2="595.90" stroke="#1a1a1a" stroke-width="1.5"/>
<rect x="99.10" y="559.10" width="28.90" height="12.50" fill="#000000" stroke="#111" stroke-width="0.6"/>
<rect x="99.10" y="574.40" width="28.90" height="12.50" fill="#0000ff" stroke="#111" stroke-width="0.6"/>
<rect x="236.20" y="559.60" width="27.90" height="12.80" fill="#ff0000" stroke="#111" stroke-width="0.6"/>
<rect x="236.20" y="574.80" width="27.90" height="12.30" fill="#008080" stroke="#111" stroke-width="0.6"/>
<text x="129.90" y="570.60" font-size="11.5" font-weight="bold" fill="#111" textLength="100.20" lengthAdjust="spacingAndGlyphs">Bln0360(P<tspan font-size="8" font-style="italic" dy="2.5">csoR</tspan><tspan dy="-2.5">::</tspan><tspan font-style="italic">lacZ</tspan>)</text>
<text x="131.20" y="585.50" font-size="11.5" font-weight="bold" fill="#111" textLength="92.80" lengthAdjust="spacingAndGlyphs">Δ<tspan font-style="italic">csoR</tspan>(P<tspan font-size="8" font-style="italic" dy="2.5">csoR</tspan><tspan dy="-2.5">::</tspan><tspan font-style="italic">lacZ</tspan>)</text>
<text x="267.90" y="571.00" font-size="11.5" font-weight="bold" fill="#111" textLength="100.40" lengthAdjust="spacingAndGlyphs">Bln0360(P<tspan font-size="8" font-style="italic" dy="2.5">cueA</tspan><tspan dy="-2.5">::</tspan><tspan font-style="italic">lacZ</tspan>)</text>
<text x="268.60" y="586.40" font-size="11.5" font-weight="bold" fill="#111" textLength="93.40" lengthAdjust="spacingAndGlyphs">Δ<tspan font-style="italic">csoR</tspan>(P<tspan font-size="8" font-style="italic" dy="2.5">cueA</tspan><tspan dy="-2.5">::</tspan><tspan font-style="italic">lacZ</tspan>)</text>
<text x="105.00" y="775.40" font-size="11.5" font-weight="bold" font-style="normal" text-anchor="middle" fill="#111">0</text>
<text x="153.50" y="775.40" font-size="11.5" font-weight="bold" font-style="normal" text-anchor="middle" fill="#111">0.001</text>
<text x="202.80" y="775.40" font-size="11.5" font-weight="bold" font-style="normal" text-anchor="middle" fill="#111">0.01</text>
<text x="252.30" y="775.40" font-size="11.5" font-weight="bold" font-style="normal" text-anchor="middle" fill="#111">0.1</text>
<text x="301.40" y="775.40" font-size="11.5" font-weight="bold" font-style="normal" text-anchor="middle" fill="#111">1</text>
<text x="350.30" y="775.40" font-size="11.5" font-weight="bold" font-style="normal" text-anchor="middle" fill="#111">2.5</text>
<text x="190.8" y="799.1" font-size="13.6" font-weight="bold" fill="#111" textLength="78.2" lengthAdjust="spacingAndGlyphs">CuSO<tspan font-size="8.6" dy="1.6">4</tspan><tspan dy="-1.6" font-size="9"> </tspan>(mM)</text>
<text transform="translate(20.10,373.60) rotate(-90) scale(1,1.04)" x="0" y="0" font-size="12.5" font-weight="bold" text-anchor="middle" fill="#111" textLength="95.00" lengthAdjust="spacingAndGlyphs">β-gal activities</text>
<text transform="translate(36.60,373.65) rotate(-90) scale(1,1.04)" x="0" y="0" font-size="12.5" font-weight="bold" text-anchor="middle" fill="#111" textLength="81.30" lengthAdjust="spacingAndGlyphs">(Miller units)</text>
<text transform="translate(368.90,375.25) rotate(-90) scale(1,1.08)" x="0" y="0" font-size="12.5" font-weight="bold" text-anchor="middle" fill="#111" textLength="95.30" lengthAdjust="spacingAndGlyphs">β-gal activities</text>
<text transform="translate(384.30,375.35) rotate(-90) scale(1,1.02)" x="0" y="0" font-size="12.5" font-weight="bold" text-anchor="middle" fill="#111" textLength="82.30" lengthAdjust="spacingAndGlyphs">(Miller units)</text>
<text transform="translate(13.70,662.10) rotate(-90) scale(1,1.15)" x="0" y="0" font-size="13" font-weight="bold" text-anchor="middle" fill="#111" textLength="103.40" lengthAdjust="spacingAndGlyphs">β-gal activities</text>
<text transform="translate(32.00,662.10) rotate(-90) scale(1,1.1)" x="0" y="0" font-size="13" font-weight="bold" text-anchor="middle" fill="#111" textLength="89.40" lengthAdjust="spacingAndGlyphs">(Miller units)</text>
</svg></body></html>
